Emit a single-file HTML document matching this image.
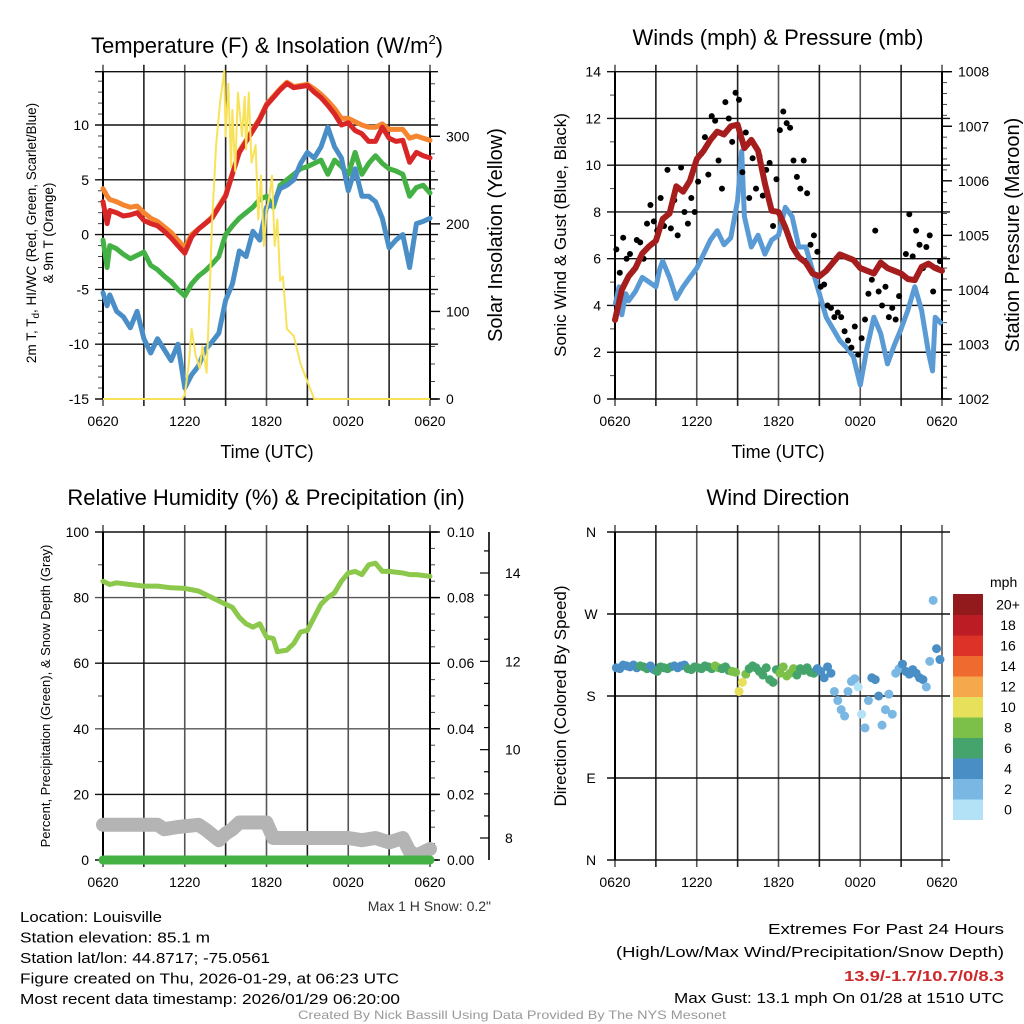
<!DOCTYPE html>
<html><head><meta charset="utf-8"><title>Louisville Mesonet Meteogram</title>
<style>
html,body{margin:0;padding:0;background:#fff;}
svg{display:block;font-family:"Liberation Sans",Arial,sans-serif;}
</style></head>
<body>
<svg id="chart" width="1024" height="1024" viewBox="0 0 1024 1024" xmlns="http://www.w3.org/2000/svg">
<g id="layer"></g>
</svg>
<script>
// ---------- DATA ----------
const xTickLabels = ["0620","1220","1820","0020","0620"];
const tempHours = [0,0.3,0.5,1,1.5,2,2.5,3,3.5,4,4.5,5,5.5,6,6.5,7,7.5,8,8.5,9,9.5,10,10.5,11,11.5,12,12.5,13,13.5,14,14.5,15,15.5,16,16.5,17,17.5,18,18.5,19,19.5,20,20.5,21,21.5,22,22.5,23,23.5,24];
const tempRed = [3.0,1.0,2.2,2.0,1.7,1.8,2.0,1.3,1.0,0.8,0.3,-0.3,-1.0,-1.7,-0.2,0.5,1.0,1.5,2.5,3.5,5.5,7.5,8.5,9.5,10.5,11.8,12.5,13.2,13.8,13.4,13.5,13.6,13.0,12.5,11.8,11.0,10.0,10.2,9.5,9.2,8.5,8.5,9.8,8.8,8.5,8.6,6.6,7.5,7.2,7.0];
const tempOrange = [4.2,3.5,3.2,3.0,2.7,2.5,2.6,2.0,1.5,1.2,0.7,0.2,-0.5,-1.2,0.0,0.5,1.0,1.6,2.6,3.6,5.6,7.6,8.6,9.6,10.6,11.9,12.6,13.3,13.9,13.5,13.6,13.7,13.3,12.8,12.2,11.5,10.6,10.6,10.3,10.0,9.8,9.8,10.1,9.6,9.6,9.6,8.8,9.0,8.8,8.6];
const tempGreen = [-0.5,-3.0,-1.0,-1.3,-1.8,-2.2,-1.9,-1.6,-2.8,-3.2,-3.8,-4.3,-5.0,-5.6,-4.5,-3.8,-3.3,-2.7,-2.0,0.0,0.8,1.5,2.0,2.5,3.2,3.5,2.5,4.5,5.0,5.5,6.0,6.2,6.5,6.8,5.5,6.8,6.2,5.5,7.5,5.5,6.5,7.2,6.5,6.0,5.8,5.5,3.5,4.3,4.5,3.8];
const tempBlue = [-5.3,-6.5,-5.5,-7.0,-7.5,-8.5,-7.0,-9.5,-10.8,-9.5,-10.5,-11.5,-10.0,-14.0,-12.8,-12.0,-10.5,-9.8,-9.0,-6.0,-4.5,-1.5,-2.0,0.3,-0.5,2.5,2.8,4.2,4.5,5.0,6.5,7.5,7.0,8.0,9.8,8.0,7.0,4.0,6.0,3.5,3.5,3.0,1.5,-1.2,-0.5,0.0,-3.0,1.0,1.2,1.5];
const solarHours = [0,5.8,6.0,6.3,6.5,6.8,7.1,7.3,7.6,7.8,8.0,8.3,8.6,8.9,9.0,9.2,9.4,9.5,9.7,9.9,10.2,10.4,10.5,10.7,10.9,11.2,11.4,11.6,11.8,12.0,12.2,12.4,12.6,12.8,13.0,13.2,13.5,14.0,14.5,15.0,15.5,24];
const solarValues = [0,0,5,40,80,50,35,60,30,110,200,290,340,375,300,360,265,330,260,350,300,345,285,350,270,290,205,255,175,215,230,255,175,205,135,140,80,72,40,20,0,0];
const windHours = [0,0.3,0.5,0.8,1,1.5,2,2.5,3,3.3,3.5,4,4.5,5,5.5,6,6.5,7,7.5,8,8.5,9,9.3,9.5,10,10.5,11,11.5,12,12.5,13,13.5,14,14.5,15,15.5,16,16.5,17,17.5,18,18.5,19,19.5,20,20.5,21,21.5,22,22.5,23,23.3,23.5,24];
const windSpeed = [4.0,4.8,3.6,4.5,4.2,4.6,5.2,5.0,4.8,5.6,5.9,5.2,4.3,4.8,5.2,5.6,6.2,6.8,7.2,6.6,6.9,8.5,10.6,7.8,6.5,7.0,6.2,6.8,7.0,8.2,7.8,6.5,6.5,5.5,4.5,3.5,3.0,2.5,2.2,1.8,0.6,2.2,3.5,2.8,1.5,2.3,3.0,3.8,4.8,3.8,2.0,1.2,3.5,3.2];
const pressureHours = [0,0.5,1,1.5,2,2.5,3,3.5,4,4.5,5,5.5,6,6.5,7,7.5,8,8.5,9,9.5,10,10.5,11,11.5,12,12.5,13,13.5,14,14.5,15,15.5,16,16.5,17,17.5,18,18.5,19,19.5,20,20.5,21,21.5,22,22.5,23,23.5,24];
const pressureValues = [1003.45,1004.0,1004.25,1004.4,1004.67,1004.8,1004.9,1005.3,1005.4,1005.9,1005.8,1006.0,1006.4,1006.55,1006.75,1006.9,1006.85,1007.0,1007.03,1006.6,1006.75,1006.55,1005.95,1005.45,1005.43,1005.15,1004.8,1004.6,1004.5,1004.3,1004.25,1004.35,1004.5,1004.65,1004.6,1004.55,1004.4,1004.35,1004.3,1004.5,1004.4,1004.35,1004.3,1004.2,1004.18,1004.42,1004.48,1004.4,1004.35];
const gustValues = [6.4,5.4,6.9,6.0, 6.2,5.5,6.8,6.7, 6.0,7.5,8.3,7.6, 7.2,8.6,7.4,9.8, 7.3,8.5,7.0,9.9, 8.0,7.5,8.6,8.0, 9.3,10.5,11.2,9.6, 12.1,11.9,10.2,9.0, 12.7,12.0,11.0,13.1, 12.8,9.7,11.4,8.6, 10.3,9.0,10.4,8.7, 9.8,10.1,7.4,9.4, 11.5,12.3,11.8,11.6, 10.2,9.5,9.0,10.2, 8.8,6.6,7.0,6.3, 4.8,4.9,4.0,3.9, 3.5,3.7,3.5,2.9, 2.5,2.2,3.1,1.9, 2.6,3.4,4.5,5.1, 7.2,4.6,4.0,4.8, 3.5,3.9,3.4,4.4, 5.3,6.2,7.9,6.1, 7.2,6.6,5.6,6.5, 7.0,4.6,5.6,5.9];
const rhHours = [0,0.5,1,2,3,4,5,6,7,8,9,9.5,10,10.5,11,11.5,12,12.5,12.8,13.5,14,14.5,15,15.5,16,16.5,17,17.5,18,18.5,19,19.5,20,20.5,21,22,22.5,23,24];
const rhValues = [85,84,84.5,84,83.5,83.5,83,82.8,82,80,78,77,74,72,71,72,68,67.5,63.5,64,66,69.5,70,74,78,80,81.5,85,87.5,88,87,90,90.5,88,88,87.5,87,87,86.5];
const snowHours = [0,1,2,3,4,4.5,5.5,7,7.5,8.5,9,9.5,10,12,12.5,13,18,19,20,21,22,22.5,23,24];
const snowValues = [8.3,8.3,8.3,8.3,8.3,8.2,8.25,8.3,8.2,7.95,8.1,8.2,8.35,8.35,8.0,8.0,8.0,7.95,8.0,7.9,8.0,7.7,7.6,7.75];
const precipValues = [0,0];
const dirValues = [211,210,214,213, 212,214,211,213, 212,210,213,209, 207,212,211,210, 212,213,211,213, 214,210,209,212, 211,210,213,212, 210,213,211,210, 212,208,207,206, 185,195,204,210, 213,211,207,203, 211,198,195,209, 205,212,202,205, 210,203,210,208, 211,206,205,210, 207,200,212,205, 185,175,165,158, 185,196,199,190, 160,145,175,200, 198,180,148,165, 182,160,205,210, 215,207,204,209, 205,200,198,190, 218,285,232,220];
const speedLevels = ["0","2","4","6","8","10","12","14","16","18","20+"];
const speedColors = ["#b3e2f7","#7ab8e3","#4a8ec6","#44a46c","#7cc04a","#e6e05a","#f5a84c","#ef6a2e","#dc3228","#bc1c24","#921a1c"];

// ---------- HELPERS ----------
const NS = "http://www.w3.org/2000/svg";
const layer = document.getElementById("layer");
function mk(tag, attrs, parent){
  const e = document.createElementNS(NS, tag);
  for (const k in attrs) e.setAttribute(k, attrs[k]);
  (parent||layer).appendChild(e);
  return e;
}
function txt(s, x, y, size, anchor, parent, extra){
  const t = mk("text", Object.assign({x:x, y:y, "font-size":size, "text-anchor":anchor||"middle", fill:"#000"}, extra||{}), parent);
  t.textContent = s;
  return t;
}
function lin(d0, d1, r0, r1){ return v => r0 + (v - d0) * (r1 - r0) / (d1 - d0); }
function interp(xs, ys, x){
  if (x <= xs[0]) return ys[0];
  for (let i = 1; i < xs.length; i++) if (x <= xs[i]) { const f = (x - xs[i-1]) / (xs[i] - xs[i-1]); return ys[i-1] + f * (ys[i] - ys[i-1]); }
  return ys[ys.length-1];
}
function pathD(xs, ys, sx, sy){ return xs.map((h,i)=>(i?"L":"M")+sx(h).toFixed(1)+","+sy(ys[i]).toFixed(1)).join(""); }

function panelFrame(g, L, R, T, B, sx){
  for (let h = 0; h <= 24; h += 3){
    const x = sx(h);
    const gl = mk("line",{x1:x,y1:T-7,x2:x,y2:B+7,stroke:(h%6===0)?"#555":"#222","stroke-width":1.6},g);
    
    
  }
  xTickLabels.forEach((s,i)=>{
    const t = txt(s, sx(i*6), B+27, 14, "middle", g);
    
    
  });
}
function hGrid(g, L, R, y, color){
  const l = mk("line",{x1:L-8,y1:y,x2:R+8,y2:y,stroke:color||"#111","stroke-width":1.4},g);
  
  
}
function minorTicks(g, x, ys, dir){
  ys.forEach(y=>{ const m = mk("line",{x1:x,y1:y,x2:x+dir*5,y2:y,stroke:"#444","stroke-width":1},g);
    
     });
}
function boxEdges(g, L, R, T, B){
  mk("line",{x1:L,y1:T,x2:L,y2:B,stroke:"#000","stroke-width":2},g);
  mk("line",{x1:R,y1:T,x2:R,y2:B,stroke:"#000","stroke-width":2},g);
}

// ---------- PANEL 1: Temperature ----------
(function(){
  const L=103,R=430,T=71.7,B=399;
  const g = mk("g",{});  
  const sx = lin(0,24,L,R), sy = lin(-15,10,399,125), ss = lin(0,300,399,136.3);
  panelFrame(g,L,R,T,B,sx);
  [-15,-10,-5,0,5,10].forEach(v=>{ hGrid(g,L,R,sy(v)); const t=txt(String(v),L-14,sy(v)+5,14,"end",g);   });
  hGrid(g,L,R,T);
  const mins=[]; for(let v=-14;v<=14;v++) if(v%5) mins.push(sy(v)); minorTicks(g,L,mins,-1);
  const smins=[]; for(let v=20;v<=360;v+=20) if(v%100) smins.push(ss(v)); minorTicks(g,R,smins,1);
  [0,100,200,300].forEach(v=>{ mk("line",{x1:R,y1:ss(v),x2:R+10,y2:ss(v),stroke:"#000","stroke-width":1.4},g); const t=txt(String(v),R+16,ss(v)+5,14,"start",g);   });
  boxEdges(g,L,R,T,B);
  const series=[["temp-9m-orange",tempOrange,"#f5862f"],["temp-2m-red",tempRed,"#d92727"],["dewpoint-green",tempGreen,"#44b144"],["windchill-blue",tempBlue,"#4a8ec8"]];
  series.forEach(s=>{ const p=mk("path",{d:pathD(tempHours,s[1],sx,sy),fill:"none",stroke:s[2],"stroke-width":5,"stroke-linejoin":"round","stroke-linecap":"round"},g);
      });
  const sp=mk("path",{d:pathD(solarHours,solarValues,sx,ss),fill:"none",stroke:"#f7e25a","stroke-width":2,"stroke-linejoin":"round"},g);
   
  const ti=txt("",267,53,22,"middle",g);  
  ti.innerHTML='Temperature (F) &amp; Insolation (W/m<tspan dy="-9" font-size="13">2</tspan><tspan dy="9">)</tspan>';
  const xt=txt("Time (UTC)",267,458,18,"middle",g);  
  const y1=txt("",0,0,13.5,"middle",g,{transform:"translate(36,233) rotate(-90)"});  
  y1.innerHTML='2m T, T<tspan dy="3" font-size="10">d</tspan><tspan dy="-3">, HI/WC (Red, Green, Scarlet/Blue)</tspan>';
  const y2=txt("& 9m T (Orange)",0,0,13.5,"middle",g,{transform:"translate(53,233) rotate(-90)"});  
  const yr=txt("Solar Insolation (Yellow)",0,0,20,"middle",g,{transform:"translate(502,235) rotate(-90)"});  
})();

// ---------- PANEL 2: Winds & Pressure ----------
(function(){
  const L=615,R=942,T=71.7,B=399;
  const g = mk("g",{});  
  const sx = lin(0,24,L,R), sy = lin(0,14,399,71.7), sp = lin(1002,1008,399,71.7);
  panelFrame(g,L,R,T,B,sx);
  [0,2,4,6,8,10,12,14].forEach(v=>{ hGrid(g,L,R,sy(v)); const t=txt(String(v),L-14,sy(v)+5,14,"end",g);   });
  const mins=[]; for(let v=1;v<14;v+=2) mins.push(sy(v)); minorTicks(g,L,mins,-1);
  const pm=[]; for(let v=1002.2;v<1008;v+=0.2) if(Math.abs(v-Math.round(v))>0.05) pm.push(sp(v)); minorTicks(g,R,pm,1);
  [1002,1003,1004,1005,1006,1007,1008].forEach(v=>{ mk("line",{x1:R,y1:sp(v),x2:R+10,y2:sp(v),stroke:"#000","stroke-width":1.4},g); const t=txt(String(v),R+16,sp(v)+5,14,"start",g);   });
  boxEdges(g,L,R,T,B);
  const wl=mk("path",{d:pathD(windHours,windSpeed,sx,sy),fill:"none",stroke:"#5a9bd5","stroke-width":5,"stroke-linejoin":"round"},g);
   
  gustValues.forEach((v,i)=>{ const c=mk("circle",{cx:sx(i*0.25+0.1),cy:sy(v),r:3,fill:"#000"},g);
      });
  const pl=mk("path",{d:pathD(pressureHours,pressureValues,sx,sp),fill:"none",stroke:"#a51d1d","stroke-width":6,"stroke-linejoin":"round","stroke-linecap":"round"},g);
   
  const ti=txt("Winds (mph) & Pressure (mb)",778,45,22,"middle",g);  
  const xt=txt("Time (UTC)",778,458,18,"middle",g);  
  const yl=txt("Sonic Wind & Gust (Blue, Black)",0,0,17,"middle",g,{transform:"translate(566,235) rotate(-90)"});  
  const yr=txt("Station Pressure (Maroon)",0,0,20,"middle",g,{transform:"translate(1019,235) rotate(-90)"});  
})();

// ---------- PANEL 3: RH & Precip ----------
(function(){
  const L=103,R=430,T=532,B=860;
  const g = mk("g",{});  
  const sx = lin(0,24,L,R), sy = lin(0,100,860,532), sn = lin(8,14,838,573);
  panelFrame(g,L,R,T,B,sx);
  [0,20,40,60,80,100].forEach(v=>{ hGrid(g,L,R,sy(v),v===80||v===40?"#555":"#111"); const t=txt(String(v),L-14,sy(v)+5,14,"end",g);   });
  const mins=[]; for(let v=10;v<100;v+=20) mins.push(sy(v)); minorTicks(g,L,mins,-1);
  const pm=[]; for(let v=5;v<100;v+=5) if(v%20) pm.push(sy(v)); minorTicks(g,R,pm,1);
  ["0.00","0.02","0.04","0.06","0.08","0.10"].forEach((s,i)=>{ const y=sy(i*20); mk("line",{x1:R,y1:y,x2:R+10,y2:y,stroke:"#000","stroke-width":1.4},g); const t=txt(s,R+17,y+5,14,"start",g);   });
  const sa=mk("line",{x1:489,y1:T,x2:489,y2:B,stroke:"#000","stroke-width":1.6},g);  
  for(let v=8;v<=14.5;v+=0.5){ const major=(v%2===0); mk("line",{x1:489,y1:sn(v),x2:major?480:484,y2:sn(v),stroke:"#000","stroke-width":1.2},g); }
  [8,10,12,14].forEach(v=>{ const t=txt(String(v),505,sn(v)+5,14,"start",g);   });
  boxEdges(g,L,R,T,B);
  const snow=mk("path",{d:pathD(snowHours,snowValues,sx,sn),fill:"none",stroke:"#b4b4b4","stroke-width":14,"stroke-linejoin":"round","stroke-linecap":"round"},g);
   
  const pr=mk("path",{d:pathD([0,24],precipValues,sx,v=>sy(v*1000)),fill:"none",stroke:"#44b144","stroke-width":9,"stroke-linecap":"round"},g);
   
  const rh=mk("path",{d:pathD(rhHours,rhValues,sx,sy),fill:"none",stroke:"#8cc84b","stroke-width":5,"stroke-linejoin":"round","stroke-linecap":"round"},g);
   
  const ti=txt("Relative Humidity (%) & Precipitation (in)",266,505,22,"middle",g);  
  const yl=txt("Percent, Precipitation (Green), & Snow Depth (Gray)",0,0,13,"middle",g,{transform:"translate(50,696) rotate(-90)"});  
  const ms=txt("Max 1 H Snow: 0.2\"",491,911,14,"end",g,{fill:"#333"});  
})();

// ---------- PANEL 4: Wind Direction ----------
(function(){
  const L=615,R=942,T=532,B=860;
  const g = mk("g",{});  
  const sx = lin(0,24,L,R), sy = lin(0,360,860,532);
  panelFrame(g,L,R,T,B,sx);
  const dl=["N","E","S","W","N"];
  dl.forEach((s,i)=>{ const y=sy(i*90); hGrid(g,L,R,y); const t=txt(s,L-24,y+5,14,"middle",g);   });
  mk("line",{x1:L,y1:T,x2:L,y2:B,stroke:"#000","stroke-width":2},g);
  dirValues.forEach((d,i)=>{
    const h=i*0.25+0.1;
    const spd=interp(windHours,windSpeed,h);
    const idx=Math.max(0,Math.min(10,Math.round(spd/2)));
    const c=mk("circle",{cx:sx(h),cy:sy(d),r:4.5,fill:speedColors[idx]},g);
     
  });
  const ti=txt("Wind Direction",778,505,22,"middle",g);  
  const yl=txt("Direction (Colored By Speed)",0,0,17,"middle",g,{transform:"translate(566,696) rotate(-90)"});  
  const lg=mk("g",{},g);  
  const top=594, bh=20.5;
  const lt=txt("mph",990,587,14,"start",lg);  
  speedLevels.forEach((s,i)=>{
    const y=top+(10-i)*bh;
    const r=mk("rect",{x:953,y:y,width:30,height:bh+0.5,fill:speedColors[i]},lg);
     
    const t=txt(s,1008,y+bh/2+5,14,"middle",lg);  
  });
})();

// ---------- FOOTER TEXT ----------
(function(){
  const g = mk("g",{});  
  const lines=[["Location: Louisville",142],["Station elevation: 85.1 m",190],["Station lat/lon: 44.8717; -75.0561",250],["Figure created on Thu, 2026-01-29, at 06:23 UTC",379],["Most recent data timestamp: 2026/01/29 06:20:00",380]];
  lines.forEach((l,i)=>{ const t=txt(l[0],20,922+i*20.5,15,"start",g,{textLength:l[1],lengthAdjust:"spacingAndGlyphs"});   });
  const e = mk("g",{});  
  const a=txt("Extremes For Past 24 Hours",1004,934,15,"end",e,{textLength:236,lengthAdjust:"spacingAndGlyphs"});  
  const b=txt("(High/Low/Max Wind/Precipitation/Snow Depth)",1004,957,15,"end",e,{textLength:388,lengthAdjust:"spacingAndGlyphs"});  
  const c=txt("13.9/-1.7/10.7/0/8.3",1004,981,15,"end",e,{fill:"#cc2a2a","font-weight":"bold",textLength:160,lengthAdjust:"spacingAndGlyphs"});  
  const d=txt("Max Gust: 13.1 mph On 01/28 at 1510 UTC",1004,1003,15,"end",e,{textLength:330,lengthAdjust:"spacingAndGlyphs"});  
  const f=txt("Created By Nick Bassill Using Data Provided By The NYS Mesonet",512,1019,12,"middle",e,{fill:"#999",textLength:428,lengthAdjust:"spacingAndGlyphs"});  
})();
</script>
</body></html>
